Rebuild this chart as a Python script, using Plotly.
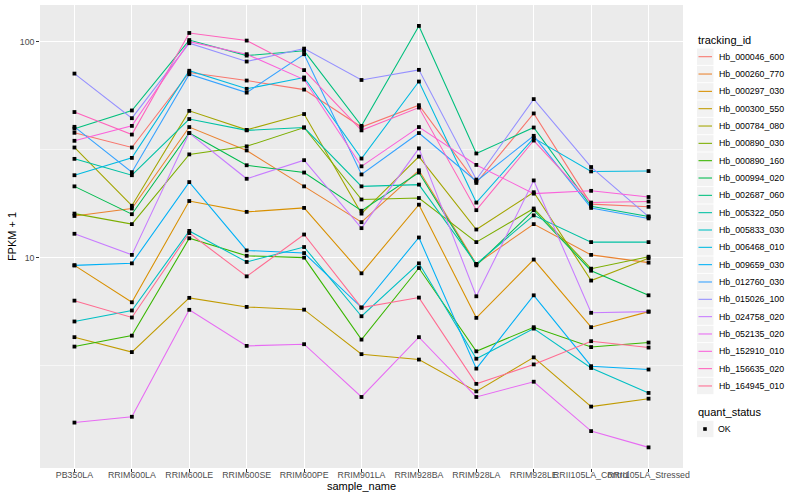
import plotly.graph_objects as go

samples = ["PB350LA", "RRIM600LA", "RRIM600LE", "RRIM600SE", "RRIM600PE", "RRIM901LA",
           "RRIM928BA", "RRIM928LA", "RRIM928LE", "RRII105LA_Control", "RRII105LA_Stressed"]

tracking_ids = ["Hb_000046_600", "Hb_000260_770", "Hb_000297_030", "Hb_000300_550", "Hb_000784_080",
                "Hb_000890_030", "Hb_000890_160", "Hb_000994_020", "Hb_002687_060", "Hb_005322_050",
                "Hb_005833_030", "Hb_006468_010", "Hb_009659_030", "Hb_012760_030", "Hb_015026_100",
                "Hb_024758_020", "Hb_052135_020", "Hb_152910_010", "Hb_156635_020", "Hb_164945_010"]

colors = ["#F8766D", "#EA8331", "#D89000", "#C09B00", "#A3A500", "#7CAE00", "#39B600", "#00BB4E",
          "#00BF7D", "#00C1A3", "#00BFC4", "#00BAE0", "#00B0F6", "#35A2FF", "#9590FF", "#C77CFF",
          "#E76BF3", "#FA62DB", "#FF62BC", "#FF6C91"]

quant_status = ["OK"]

# FPKM + 1 values, one list per tracking_id, in sample order
Hb_000046_600 = [37.9, 32.4, 72.1, 66.2, 60.1, 40.3, 50.9, 22.2, 46.6, 17.7, 17.2]
Hb_000260_770 = [15.6, 16.9, 40.3, 31.4, 21.4, 14.6, 25.4, 9.35, 14.3, 10.3, 9.48]
Hb_000297_030 = [9.21, 6.21, 18.3, 16.3, 17.0, 8.46, 17.6, 5.26, 9.8, 4.76, 5.62]
Hb_000300_550 = [4.28, 3.65, 6.51, 5.91, 5.74, 3.57, 3.37, 2.4, 3.45, 2.04, 2.22]
Hb_000784_080 = [32.4, 17.4, 47.9, 39.1, 46.3, 16.0, 29.4, 13.5, 20.1, 7.83, 9.93]
Hb_000890_030 = [16.0, 14.3, 30.1, 32.8, 40.1, 18.6, 18.9, 11.8, 16.9, 8.89, 10.1]
Hb_000890_160 = [3.87, 4.35, 12.3, 10.2, 10.0, 4.17, 8.95, 3.68, 4.76, 3.85, 4.04]
Hb_000994_020 = [21.4, 15.9, 37.8, 26.8, 24.8, 16.5, 24.8, 9.21, 16.6, 8.7, 6.69]
Hb_002687_060 = [39.6, 48.1, 102.0, 86.4, 90.9, 40.8, 118.6, 30.4, 40.1, 17.3, 15.5]
Hb_005322_050 = [28.7, 24.1, 43.9, 38.9, 40.1, 21.4, 21.8, 9.35, 15.7, 11.8, 11.8]
Hb_005833_030 = [5.06, 5.69, 13.3, 9.55, 11.2, 5.35, 9.41, 3.4, 4.69, 3.08, 2.36]
Hb_006468_010 = [24.1, 29.0, 73.5, 60.6, 68.4, 28.8, 65.5, 18.0, 35.8, 25.1, 25.2]
Hb_009659_030 = [9.21, 9.41, 22.4, 10.8, 10.5, 5.87, 12.4, 3.06, 6.69, 3.14, 3.03]
Hb_012760_030 = [40.4, 24.9, 70.8, 58.2, 87.7, 24.3, 37.8, 22.6, 36.7, 17.0, 15.2]
Hb_015026_100 = [71.3, 44.3, 98.6, 81.1, 93.1, 66.6, 74.2, 23.0, 54.3, 26.3, 15.5]
Hb_024758_020 = [12.9, 10.3, 37.8, 23.2, 28.3, 13.7, 32.1, 6.62, 22.8, 5.55, 5.62]
Hb_052135_020 = [1.72, 1.83, 5.73, 3.9, 3.97, 2.26, 4.28, 2.26, 2.66, 1.57, 1.32]
Hb_152910_010 = [34.8, 40.8, 100.3, 87.7, 66.9, 26.5, 40.3, 26.9, 19.8, 20.4, 19.1]
Hb_156635_020 = [47.3, 37.2, 110.0, 101.4, 74.0, 38.9, 49.6, 16.6, 34.9, 18.0, 18.2]
Hb_164945_010 = [6.32, 5.28, 13.0, 8.19, 12.8, 5.87, 6.53, 2.6, 3.2, 4.1, 3.83]

series = [Hb_000046_600, Hb_000260_770, Hb_000297_030, Hb_000300_550, Hb_000784_080,
          Hb_000890_030, Hb_000890_160, Hb_000994_020, Hb_002687_060, Hb_005322_050,
          Hb_005833_030, Hb_006468_010, Hb_009659_030, Hb_012760_030, Hb_015026_100,
          Hb_024758_020, Hb_052135_020, Hb_152910_010, Hb_156635_020, Hb_164945_010]

W, H = 800, 500
L, R, T, B = 40, 117, 5, 32
PW = W - L - R
PH = H - T - B


def px(x):
    return (x - L) / PW


def py(y):
    return (H - B - y) / PH


FONT = "Liberation Sans, Arial, Helvetica, sans-serif"

fig = go.Figure()

# lines first (ggplot geom_line layer)
for tid, col, vals in zip(tracking_ids, colors, series):
    fig.add_trace(go.Scatter(x=samples, y=vals, mode="lines", name=tid,
                             line=dict(color=col, width=1.07), showlegend=False,
                             hoverinfo="x+y+name"))
# points on top (geom_point layer)
for tid, vals in zip(tracking_ids, series):
    fig.add_trace(go.Scatter(x=samples, y=vals, mode="markers", name=tid,
                             marker=dict(symbol="square", size=3.8, color="black"),
                             showlegend=False, hoverinfo="skip"))

shapes = []
annotations = []

# legend: tracking_id
annotations.append(dict(text="tracking_id", xref="paper", yref="paper", x=px(695.5), y=py(40.5),
                        xanchor="left", yanchor="middle", showarrow=False,
                        font=dict(family=FONT, size=11, color="black")))
y0 = 56.7
step = 17.33
for i, (tid, col) in enumerate(zip(tracking_ids, colors)):
    yc = y0 + i * step
    shapes.append(dict(type="rect", xref="paper", yref="paper",
                       x0=px(697), x1=px(713.5), y0=py(yc - 8.2), y1=py(yc + 8.2),
                       fillcolor="#F2F2F2", line=dict(width=0), layer="above"))
    shapes.append(dict(type="line", xref="paper", yref="paper",
                       x0=px(698.5), x1=px(712), y0=py(yc), y1=py(yc),
                       line=dict(color=col, width=1.07), layer="above"))
    annotations.append(dict(text=tid, xref="paper", yref="paper", x=px(716.5), y=py(yc),
                            xanchor="left", yanchor="middle", showarrow=False,
                            font=dict(family=FONT, size=8.8, color="black")))

# legend: quant_status
annotations.append(dict(text="quant_status", xref="paper", yref="paper", x=px(695.5), y=py(412.3),
                        xanchor="left", yanchor="middle", showarrow=False,
                        font=dict(family=FONT, size=11, color="black")))
for j, qs in enumerate(quant_status):
    yc = 429 + j * step
    shapes.append(dict(type="rect", xref="paper", yref="paper",
                       x0=px(697), x1=px(713.5), y0=py(yc - 8.2), y1=py(yc + 8.2),
                       fillcolor="#F2F2F2", line=dict(width=0), layer="above"))
    shapes.append(dict(type="rect", xref="paper", yref="paper",
                       x0=px(703.2), x1=px(706.8), y0=py(yc - 1.8), y1=py(yc + 1.8),
                       fillcolor="black", line=dict(width=0), layer="above"))
    annotations.append(dict(text=qs, xref="paper", yref="paper", x=px(716), y=py(yc),
                            xanchor="left", yanchor="middle", showarrow=False,
                            font=dict(family=FONT, size=8.8, color="black")))

fig.update_layout(
    width=W, height=H,
    margin=dict(l=L, r=R, t=T, b=B, pad=0),
    paper_bgcolor="white",
    plot_bgcolor="#EBEBEB",
    font=dict(family=FONT, size=8.8, color="#4D4D4D"),
    showlegend=False,
    hovermode=False,
    shapes=shapes,
    annotations=annotations,
    xaxis=dict(
        type="category", categoryorder="array", categoryarray=samples,
        range=[-0.6, len(samples) - 1 + 0.6],
        showgrid=True, gridcolor="white", gridwidth=1.07,
        ticks="outside", ticklen=2.75, tickwidth=1.07, tickcolor="#333333",
        tickangle=0, tickfont=dict(family=FONT, size=8.8, color="#4D4D4D"),
        ticklabelstandoff=-4,
        showline=False, zeroline=False, automargin=False,
        title=dict(text="sample_name", font=dict(family=FONT, size=11, color="black"), standoff=1),
    ),
    yaxis=dict(
        type="log", range=[0.025, 2.171],
        tickvals=[10, 100], ticktext=["10", "100"],
        showgrid=True, gridcolor="white", gridwidth=1.07,
        minor=dict(tickvals=[3.1623, 31.623], showgrid=True, gridcolor="white", gridwidth=0.53, ticks=""),
        ticks="outside", ticklen=2.75, tickwidth=1.07, tickcolor="#333333",
        tickfont=dict(family=FONT, size=8.8, color="#4D4D4D"),
        showline=False, zeroline=False, automargin=False,
        title=dict(text="FPKM + 1", font=dict(family=FONT, size=11, color="black"), standoff=0),
    ),
)

fig.write_html("out.html", config={"displayModeBar": False, "staticPlot": True},
               post_script="document.body.style.margin='0';document.body.style.padding='0';")
